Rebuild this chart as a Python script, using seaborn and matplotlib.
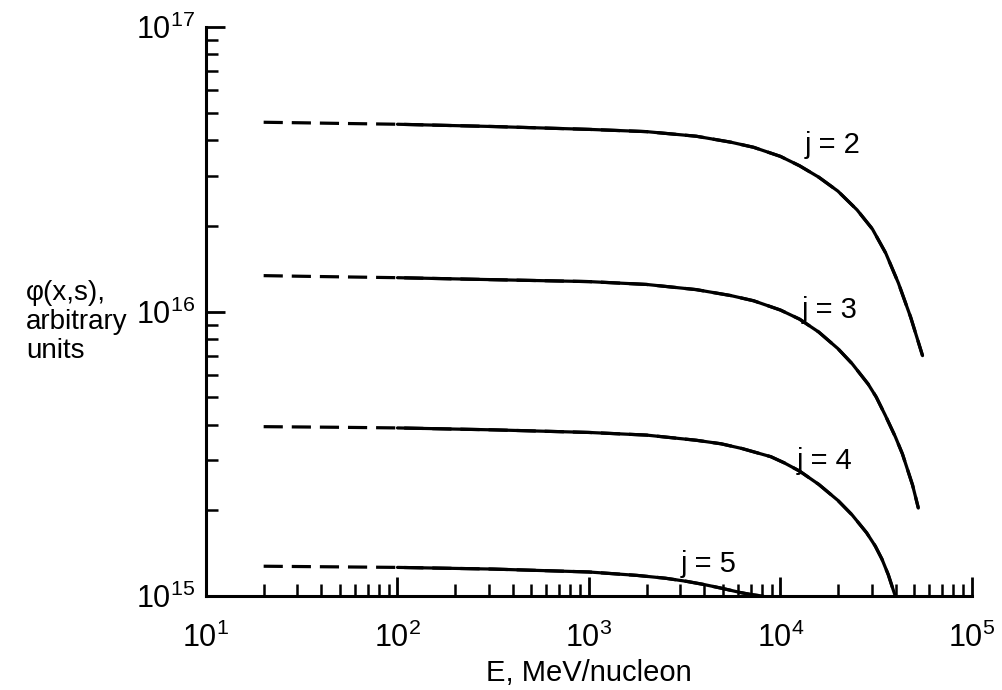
import numpy as np
import pandas as pd
import matplotlib
matplotlib.use('Agg')
import matplotlib.pyplot as plt
import seaborn as sns

# Energies (MeV/nucleon) and flux values
E_j2 = [20, 32, 50, 100, 316, 1000, 2000, 3630, 5500, 7240, 10000, 12590,
        15850, 19950, 25120, 30200, 35480, 41300, 47860, 55200]
phi_j2 = [4.624e16, 4.603e16, 4.581e16, 4.550e16, 4.467e16, 4.365e16, 4.286e16,
          4.130e16, 3.936e16, 3.776e16, 3.508e16, 3.251e16, 2.965e16, 2.649e16,
          2.276e16, 1.950e16, 1.603e16, 1.259e16, 9.55e15, 7.0e15]

E_j3 = [20, 32, 50, 100, 316, 1000, 2000, 3630, 5500, 7240, 10000, 12590,
        15850, 19950, 23710, 28710, 31620, 35240, 39810, 43350, 48980, 52480]
phi_j3 = [1.337e16, 1.330e16, 1.324e16, 1.315e16, 1.294e16, 1.274e16, 1.245e16,
          1.194e16, 1.138e16, 1.091e16, 1.012e16, 9.40e15, 8.47e15, 7.41e15,
          6.55e15, 5.56e15, 5.01e15, 4.325e15, 3.63e15, 3.16e15, 2.455e15, 2.04e15]

E_j4 = [20, 32, 50, 100, 316, 1000, 2000, 3630, 4900, 6310, 8910, 10470, 12590,
        15850, 19950, 23660, 28180, 31260, 33880, 36560, 38900, 39810]
phi_j4 = [3.94e15, 3.93e15, 3.92e15, 3.90e15, 3.84e15, 3.76e15, 3.68e15, 3.53e15,
          3.43e15, 3.30e15, 3.09e15, 2.94e15, 2.75e15, 2.47e15, 2.17e15, 1.93e15,
          1.67e15, 1.50e15, 1.35e15, 1.19e15, 1.047e15, 1.0e15]

E_j5 = [20, 100, 316, 1000, 1780, 2510, 3240, 3980, 4900, 6170, 7080, 8130]
phi_j5 = [1.274e15, 1.262e15, 1.245e15, 1.216e15, 1.183e15, 1.156e15, 1.127e15,
          1.099e15, 1.067e15, 1.030e15, 1.012e15, 1.0e15]

curve_labels = ['j = 2', 'j = 3', 'j = 4', 'j = 5']
# dashed (extrapolated) part hands over to the solid curve here
E_solid_start = 100

sns.set_style('ticks')
plt.rcParams['font.family'] = ['Liberation Sans', 'DejaVu Sans']
plt.rcParams['mathtext.fontset'] = 'custom'
plt.rcParams['mathtext.rm'] = 'Liberation Sans'
plt.rcParams['mathtext.default'] = 'regular'
for key in ['text.color', 'axes.labelcolor', 'xtick.color', 'ytick.color', 'axes.edgecolor']:
    plt.rcParams[key] = 'black'

fig = plt.figure(figsize=(10.02, 6.9), dpi=100)
ax = fig.add_axes([0.2056, 0.136, 0.7644, 0.825])

curves = [(E_j2, phi_j2), (E_j3, phi_j3), (E_j4, phi_j4), (E_j5, phi_j5)]
for E, phi in curves:
    df = pd.DataFrame({'E': E, 'phi': phi})
    sns.lineplot(data=df, x='E', y='phi', ax=ax, color='black', lw=2.3,
                 linestyle=(0, (6, 2.8)), estimator=None, sort=False)
    solid = df[df['E'] >= E_solid_start]
    sns.lineplot(data=solid, x='E', y='phi', ax=ax, color='black', lw=2.3,
                 estimator=None, sort=False)

ax.set_xscale('log')
ax.set_yscale('log')
ax.set_xlim(10, 1e5)
ax.set_ylim(1e15, 1e17)

sns.despine(ax=ax)
for s in ['left', 'bottom']:
    ax.spines[s].set_linewidth(2.2)
ax.tick_params(which='major', direction='in', length=14, width=2, labelsize=22)
ax.tick_params(which='minor', direction='in', length=8.5, width=1.8)
ax.tick_params(axis='y', which='major', pad=8)
ax.tick_params(axis='x', which='major', pad=19)

ax.set_xlabel('E, MeV/nucleon', fontsize=21, labelpad=4)
ax.set_ylabel('')
fig.text(0.026, 0.533, 'φ(x,s),\narbitrary\nunits', fontsize=20, ha='left', va='center',
         linespacing=1.15)

# curve labels
ax.text(18800, 3.85e16, curve_labels[0], fontsize=21, ha='center', va='center')
ax.text(18100, 1.01e16, curve_labels[1], fontsize=21, ha='center', va='center')
ax.text(17060, 2.99e15, curve_labels[2], fontsize=21, ha='center', va='center')
ax.text(4230, 1.30e15, curve_labels[3], fontsize=21, ha='center', va='center')

plt.savefig('out.png', dpi=100)
